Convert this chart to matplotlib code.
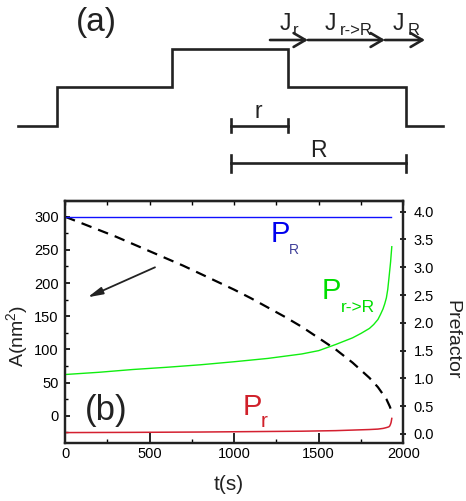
import matplotlib
matplotlib.use("Agg")
import matplotlib.pyplot as plt
from matplotlib.ticker import MultipleLocator, FormatStrFormatter, NullFormatter

plt.rcParams['font.family'] = ['Liberation Sans', 'DejaVu Sans']
plt.rcParams['mathtext.fontset'] = 'custom'
plt.rcParams['mathtext.rm'] = 'Liberation Sans'
plt.rcParams['mathtext.it'] = 'Liberation Sans'

# ---------------- data (panel b) ----------------
t_area = [0, 100, 200, 300, 400, 500, 600, 700, 800, 900, 1000, 1100, 1200,
          1300, 1400, 1500, 1600, 1700, 1800, 1850, 1900, 1920, 1930]
area = [300, 290, 280, 270, 259, 248, 237, 226, 214, 202, 190, 177, 163,
        149, 134, 117, 100, 80, 57, 43, 25, 14, 7]

t_pref = [0, 200, 400, 600, 800, 1000, 1200, 1400, 1500, 1600, 1700, 1750,
          1800, 1825, 1850, 1865, 1880, 1890, 1900, 1908, 1915, 1920, 1925,
          1928, 1932]
p_rR = [1.07, 1.11, 1.16, 1.20, 1.245, 1.30, 1.36, 1.44, 1.50, 1.61, 1.73,
        1.81, 1.90, 1.97, 2.06, 2.15, 2.25, 2.34, 2.45, 2.60, 2.80, 2.95,
        3.10, 3.22, 3.37]
p_r = [0.025, 0.027, 0.029, 0.032, 0.035, 0.04, 0.045, 0.05, 0.055, 0.06,
       0.07, 0.075, 0.08, 0.084, 0.088, 0.094, 0.10, 0.107, 0.115, 0.122,
       0.13, 0.145, 0.18, 0.21, 0.28]
t_R = [0, 1930]
p_R = [3.91, 3.91]

# ---------------- schematic (panel a), pixel units ----------------
profile_x = [18, 57, 57, 172, 172, 288, 288, 406, 406, 443]
profile_y = [126, 126, 87, 87, 49, 49, 87, 87, 126, 126]
flux_x = [270, 308, 385, 425]
flux_y = 40
r_bar = [231, 288]
R_bar = [231, 406]

W, H = 466, 501
fig = plt.figure(figsize=(W / 100, H / 100), dpi=100)

# main axes
ax = fig.add_axes([65 / W, 1 - 442.7 / H, 338.3 / W, 242 / H])
ax2 = ax.twinx()

ax.plot(t_area, area, color='black', lw=1.6, dashes=(4.8, 3.2), zorder=3)
ax2.plot(t_R, p_R, color='#1010ff', lw=1.0)
ax2.plot(t_pref, p_rR, color='#10ee10', lw=1.0)
ax2.plot(t_pref, p_r, color='#d42030', lw=1.1)

ax.set_xlim(0, 2000)
ax.set_ylim(-40.7, 324.1)
ax2.set_ylim(-0.157, 4.198)

ax.xaxis.set_major_locator(MultipleLocator(500))
ax.xaxis.set_minor_locator(MultipleLocator(250))
ax.yaxis.set_major_locator(MultipleLocator(50))
ax.yaxis.set_minor_locator(MultipleLocator(25))
ax2.yaxis.set_major_locator(MultipleLocator(0.5))
ax2.yaxis.set_major_formatter(FormatStrFormatter('%.1f'))

ax.tick_params(axis='x', which='major', direction='in', length=7, width=1.2,
               labelsize=10.5, pad=3, top=False)
ax.tick_params(axis='x', which='minor', direction='in', length=3, width=1.0, top=False)
ax.tick_params(axis='y', which='major', direction='in', length=3.5, width=1.2,
               labelsize=10.5, pad=4.5)
ax.tick_params(axis='y', which='minor', direction='in', length=2, width=1.0)
ax2.tick_params(axis='y', which='major', direction='inout', length=5, width=1.2,
                labelsize=10.5, pad=5)

top = ax.secondary_xaxis('top')
top.xaxis.set_major_locator(MultipleLocator(250))
top.xaxis.set_major_formatter(NullFormatter())
top.tick_params(axis='x', which='major', direction='in', length=3, width=1.0)
top.spines['top'].set_linewidth(1.6)
top.spines['top'].set_color('#222222')

for a in (ax, ax2):
    for s in a.spines.values():
        s.set_linewidth(1.6)
        s.set_color('#222222')

ax.annotate('', xy=(134, 178.5), xytext=(532, 223.7),
            arrowprops=dict(arrowstyle='-|>,head_length=0.9,head_width=0.22',
                            color='#222222', lw=1.3, shrinkA=0, shrinkB=0))

# overlay axes in pixel coordinates for schematic and labels
ax0 = fig.add_axes([0, 0, 1, 1], zorder=5)
ax0.set_xlim(0, W)
ax0.set_ylim(H, 0)
ax0.axis('off')

k = '#222222'
ax0.plot(profile_x, profile_y, color=k, lw=1.9, solid_joinstyle='miter')
for x0, x1 in zip(flux_x[:-1], flux_x[1:]):
    ax0.annotate('', xy=(x1, flux_y), xytext=(x0, flux_y),
                 arrowprops=dict(arrowstyle='->,head_length=0.85,head_width=0.5',
                                 color=k, lw=1.9, shrinkA=0, shrinkB=0))
for xs, yb, hc in ((r_bar, 125.7, 6.3), (R_bar, 163.3, 8.5)):
    ax0.plot(xs, [yb, yb], color=k, lw=1.9)
    for xx in xs:
        ax0.plot([xx, xx], [yb - hc, yb + hc], color=k, lw=1.9)

# axis labels
ax0.text(228.5, 484, 't(s)', fontsize=15, ha='center', va='center', color=k)
ax0.text(17, 336, r'A(nm$^{\mathregular{2}}$)', fontsize=14, rotation=90,
         ha='center', va='center', color=k)
ax0.text(452, 340, 'Prefactor', fontsize=14, rotation=-90,
         ha='center', va='center', color=k)

ax0.text(96, 22, '(a)', fontsize=24, ha='center', va='center', color=k)
ax0.text(106.5, 410.5, '(b)', fontsize=25, ha='center', va='center', color=k)
ax0.text(258, 118.3, 'r', fontsize=16.5, ha='center', va='baseline', color=k)
ax0.text(318, 156.7, 'R', fontsize=16.5, ha='center', va='baseline', color=k)

# J labels
ax0.text(280, 30, 'J', fontsize=16.5, va='baseline', color=k)
ax0.text(293, 35, 'r', fontsize=12, va='baseline', color=k)
ax0.text(325, 30, 'J', fontsize=16.5, va='baseline', color=k)
ax0.text(340, 35, 'r->R', fontsize=12, va='baseline', color=k)
ax0.text(393, 30, 'J', fontsize=16.5, va='baseline', color=k)
ax0.text(408, 35, 'R', fontsize=12, va='baseline', color=k)

# P labels
ax0.text(270.5, 241.7, 'P', fontsize=21, va='baseline', color='#0000ee')
ax0.text(289, 254, 'R', fontsize=10, va='baseline', color='#40409a')
ax0.text(322, 299.3, 'P', fontsize=21, va='baseline', color='#00dd00')
ax0.text(340.5, 311.7, 'r->R', fontsize=12.5, va='baseline', color='#00dd00')
ax0.text(243, 415, 'P', fontsize=21, va='baseline', color='#d0202a')
ax0.text(261, 426.7, 'r', fontsize=15, va='baseline', color='#d0202a')

fig.savefig('out.png', dpi=100)
